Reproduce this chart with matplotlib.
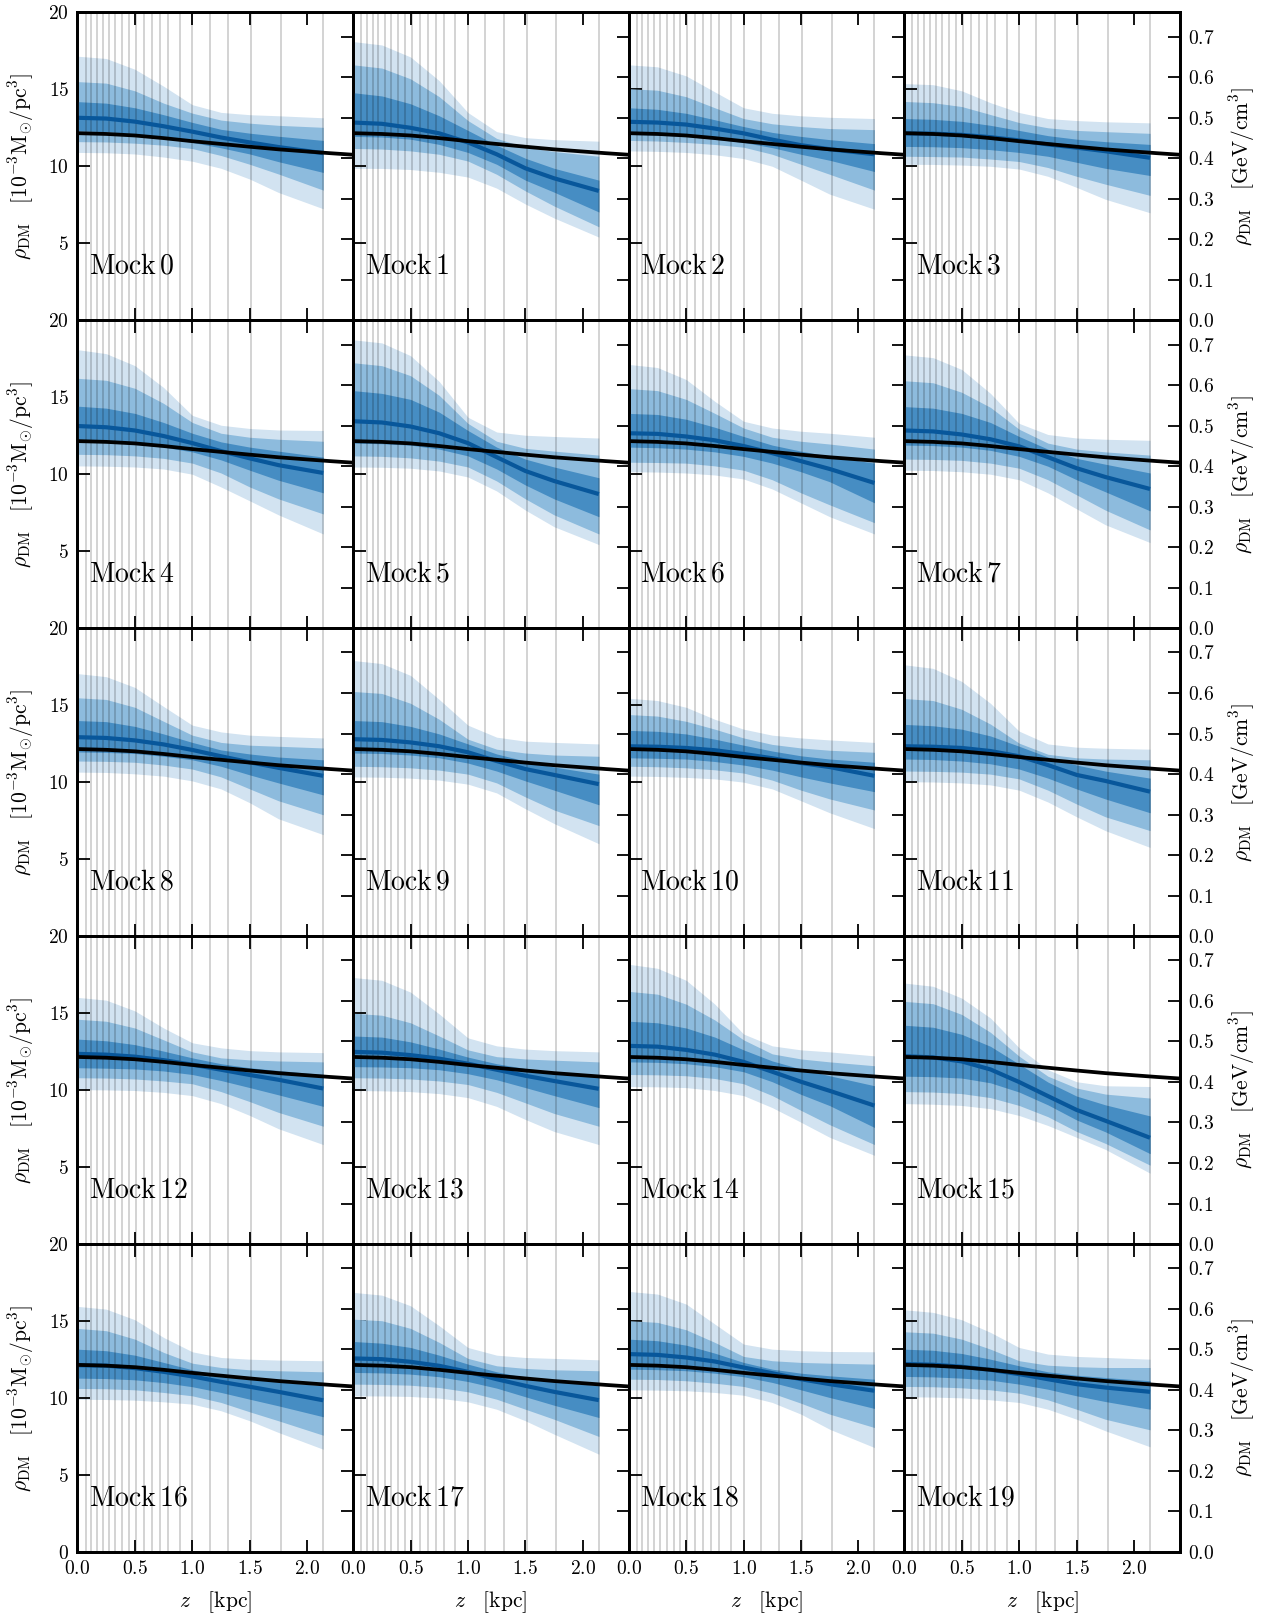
import numpy as np
import matplotlib
matplotlib.use("Agg")
import matplotlib.pyplot as plt
from matplotlib.ticker import FuncFormatter

# ---------------- data ----------------
z_grid = [0.0, 0.25, 0.5, 0.75, 1.0, 1.25, 1.5, 1.75, 2.14]
bin_edges = [0.07, 0.12, 0.17, 0.22, 0.275, 0.33, 0.39, 0.45, 0.51, 0.58,
             0.65, 0.72, 0.79, 0.89, 1.0, 1.15, 1.31, 1.51, 1.77, 2.14]

z_true = [0.0, 0.25, 0.5, 0.75, 1.0, 1.25, 1.5, 1.75, 2.0, 2.2, 2.4]
rho_true = [12.15, 12.1, 12.0, 11.83, 11.63, 11.45, 11.27, 11.1, 10.96, 10.85, 10.75]

mock_names = [f"Mock {i}" for i in range(20)]

outer_hi = [
    [17.15, 17.0, 16.3, 15.2, 14.0, 13.5, 13.35, 13.28, 13.15],
    [18.1, 17.88, 17.1, 15.56, 13.49, 12.25, 11.86, 11.73, 11.63],
    [16.59, 16.46, 15.87, 14.83, 13.8, 13.44, 13.28, 13.18, 13.1],
    [15.37, 15.3, 14.9, 14.13, 13.49, 13.1, 12.97, 12.89, 12.82],
    [18.09, 17.83, 17.05, 15.63, 13.82, 13.18, 12.97, 12.87, 12.84],
    [18.73, 18.53, 17.7, 16.02, 13.7, 12.74, 12.53, 12.45, 12.35],
    [17.13, 16.93, 16.15, 14.73, 13.44, 13.0, 12.79, 12.66, 12.4],
    [17.75, 17.57, 16.8, 15.25, 13.3, 12.58, 12.35, 12.27, 12.2],
    [17.05, 16.85, 16.15, 14.91, 13.7, 13.26, 13.05, 12.97, 12.87],
    [17.9, 17.7, 16.93, 15.37, 13.7, 12.92, 12.66, 12.58, 12.48],
    [15.45, 15.3, 14.86, 14.08, 13.44, 13.05, 12.87, 12.74, 12.58],
    [17.62, 17.39, 16.54, 15.12, 13.31, 12.48, 12.27, 12.2, 12.14],
    [16.02, 15.84, 15.14, 14.03, 13.07, 12.74, 12.56, 12.48, 12.43],
    [17.31, 17.13, 16.36, 14.94, 13.39, 12.87, 12.66, 12.56, 12.48],
    [18.17, 17.91, 17.13, 15.58, 13.64, 12.87, 12.61, 12.48, 12.22],
    [16.95, 16.74, 15.97, 14.68, 12.74, 11.32, 10.54, 10.28, 10.23],
    [15.95, 15.77, 15.08, 13.93, 13.0, 12.63, 12.52, 12.46, 12.42],
    [16.86, 16.68, 15.99, 14.69, 13.28, 12.78, 12.63, 12.57, 12.48],
    [16.92, 16.75, 16.1, 14.8, 13.5, 13.17, 13.07, 13.02, 13.0],
    [15.73, 15.56, 15.08, 14.26, 13.28, 12.85, 12.7, 12.63, 12.52],
]
mid_hi = [
    [15.5, 15.4, 14.9, 14.1, 13.45, 13.0, 12.8, 12.66, 12.53],
    [16.59, 16.38, 15.68, 14.52, 12.97, 11.81, 11.24, 10.96, 10.65],
    [15.04, 14.94, 14.52, 13.8, 13.1, 12.76, 12.58, 12.45, 12.38],
    [14.21, 14.13, 13.88, 13.36, 12.84, 12.5, 12.33, 12.25, 12.14],
    [16.23, 16.1, 15.58, 14.6, 13.36, 12.66, 12.4, 12.27, 12.14],
    [17.24, 17.05, 16.4, 15.12, 13.3, 12.14, 11.68, 11.5, 11.24],
    [15.56, 15.43, 14.86, 13.95, 13.0, 12.4, 12.14, 11.96, 11.63],
    [16.07, 15.94, 15.32, 14.34, 12.92, 12.02, 11.63, 11.45, 11.24],
    [15.48, 15.37, 14.86, 13.95, 13.05, 12.58, 12.4, 12.33, 12.22],
    [15.89, 15.76, 15.12, 14.08, 12.79, 12.14, 11.89, 11.76, 11.68],
    [14.39, 14.29, 13.95, 13.44, 12.87, 12.45, 12.22, 12.07, 11.94],
    [15.43, 15.3, 14.73, 13.77, 12.53, 11.81, 11.58, 11.5, 11.45],
    [14.6, 14.47, 14.03, 13.26, 12.48, 12.09, 11.96, 11.89, 11.83],
    [14.99, 14.86, 14.37, 13.51, 12.61, 12.17, 12.02, 11.94, 11.83],
    [16.41, 16.23, 15.58, 14.55, 13.26, 12.35, 12.02, 11.83, 11.58],
    [15.76, 15.61, 14.91, 13.75, 12.2, 10.9, 10.13, 9.74, 9.48],
    [14.52, 14.37, 13.82, 12.96, 12.26, 11.98, 11.83, 11.77, 11.7],
    [15.12, 15.02, 14.52, 13.61, 12.57, 12.09, 11.92, 11.83, 11.77],
    [15.02, 14.91, 14.43, 13.61, 12.7, 12.42, 12.31, 12.26, 12.2],
    [14.3, 14.21, 13.82, 13.17, 12.42, 12.13, 12.03, 11.98, 11.98],
]
inner_hi = [
    [14.2, 14.1, 13.8, 13.35, 12.85, 12.4, 12.15, 11.95, 11.68],
    [14.78, 14.57, 14.06, 13.28, 12.33, 11.37, 10.52, 9.87, 9.1],
    [13.8, 13.7, 13.44, 13.02, 12.58, 12.2, 11.94, 11.73, 11.47],
    [13.1, 13.05, 12.92, 12.66, 12.33, 11.99, 11.76, 11.6, 11.42],
    [14.42, 14.29, 13.95, 13.36, 12.66, 12.1, 11.76, 11.5, 11.11],
    [15.43, 15.25, 14.86, 14.03, 12.84, 11.76, 10.98, 10.47, 9.77],
    [13.95, 13.88, 13.57, 13.05, 12.45, 11.89, 11.5, 11.16, 10.72],
    [14.39, 14.29, 13.95, 13.36, 12.45, 11.63, 11.03, 10.65, 10.08],
    [14.0, 13.93, 13.62, 13.13, 12.58, 12.09, 11.83, 11.63, 11.45],
    [14.0, 13.93, 13.62, 13.13, 12.48, 11.83, 11.37, 10.98, 10.52],
    [13.36, 13.3, 13.13, 12.79, 12.4, 12.02, 11.71, 11.5, 11.29],
    [13.75, 13.66, 13.44, 13.0, 12.33, 11.63, 11.11, 10.72, 10.26],
    [13.31, 13.2, 12.95, 12.53, 12.09, 11.71, 11.45, 11.27, 11.01],
    [13.51, 13.44, 13.13, 12.66, 12.14, 11.71, 11.4, 11.19, 10.93],
    [14.47, 14.37, 14.03, 13.44, 12.61, 11.89, 11.37, 10.93, 10.28],
    [14.21, 14.08, 13.62, 12.84, 11.68, 10.52, 9.61, 9.04, 8.32],
    [13.17, 13.07, 12.78, 12.31, 11.83, 11.48, 11.22, 11.05, 10.79],
    [13.67, 13.56, 13.28, 12.78, 12.2, 11.7, 11.33, 11.12, 10.79],
    [13.82, 13.72, 13.43, 12.91, 12.31, 11.87, 11.61, 11.44, 11.22],
    [13.17, 13.1, 12.89, 12.52, 12.09, 11.7, 11.48, 11.33, 11.12],
]
median = [
    [13.15, 13.1, 12.9, 12.6, 12.25, 11.87, 11.55, 11.25, 10.85],
    [12.84, 12.76, 12.5, 12.14, 11.55, 10.78, 9.87, 9.22, 8.4],
    [12.89, 12.84, 12.71, 12.45, 12.14, 11.73, 11.37, 11.11, 10.78],
    [12.14, 12.12, 12.04, 11.89, 11.68, 11.42, 11.21, 10.98, 10.55],
    [13.13, 13.05, 12.84, 12.48, 12.02, 11.5, 11.03, 10.59, 10.08],
    [13.44, 13.36, 13.1, 12.66, 12.02, 11.11, 10.21, 9.56, 8.71],
    [12.66, 12.62, 12.45, 12.2, 11.83, 11.37, 10.85, 10.34, 9.43],
    [12.84, 12.78, 12.58, 12.27, 11.81, 11.11, 10.39, 9.82, 9.04],
    [12.92, 12.87, 12.71, 12.45, 12.09, 11.68, 11.29, 10.93, 10.41],
    [12.79, 12.74, 12.58, 12.33, 11.94, 11.37, 10.85, 10.47, 9.87],
    [12.33, 12.3, 12.22, 12.07, 11.83, 11.55, 11.24, 10.98, 10.41],
    [12.33, 12.3, 12.22, 12.02, 11.68, 11.11, 10.47, 10.08, 9.38],
    [12.35, 12.3, 12.17, 11.94, 11.65, 11.32, 10.98, 10.67, 10.1],
    [12.48, 12.43, 12.27, 12.04, 11.71, 11.32, 10.93, 10.59, 10.08],
    [12.87, 12.82, 12.61, 12.3, 11.83, 11.19, 10.54, 9.95, 8.99],
    [12.2, 12.12, 11.86, 11.34, 10.52, 9.61, 8.71, 8.01, 6.9],
    [12.13, 12.1, 11.94, 11.7, 11.4, 11.05, 10.73, 10.4, 9.85],
    [12.57, 12.52, 12.35, 12.09, 11.7, 11.22, 10.79, 10.4, 9.86],
    [12.85, 12.8, 12.63, 12.37, 11.98, 11.61, 11.22, 10.9, 10.47],
    [12.2, 12.16, 12.03, 11.83, 11.55, 11.22, 10.9, 10.68, 10.4],
]
inner_lo = [
    [12.3, 12.25, 12.1, 11.85, 11.55, 11.2, 10.8, 10.3, 9.6],
    [11.94, 11.9, 11.76, 11.42, 10.9, 10.13, 9.1, 8.32, 7.03],
    [12.07, 12.03, 11.94, 11.76, 11.55, 11.21, 10.78, 10.39, 9.66],
    [11.29, 11.27, 11.21, 11.08, 10.9, 10.65, 10.26, 9.87, 9.4],
    [12.07, 12.05, 11.96, 11.76, 11.45, 10.93, 10.26, 9.61, 8.79],
    [12.02, 11.98, 11.89, 11.63, 11.19, 10.34, 9.3, 8.4, 7.24],
    [11.76, 11.72, 11.63, 11.45, 11.16, 10.72, 10.16, 9.51, 8.14],
    [11.89, 11.86, 11.76, 11.55, 11.16, 10.52, 9.64, 8.86, 7.62],
    [11.96, 11.93, 11.86, 11.68, 11.45, 11.03, 10.47, 9.95, 9.17],
    [11.89, 11.86, 11.76, 11.58, 11.24, 10.72, 10.08, 9.48, 8.53],
    [11.58, 11.55, 11.5, 11.34, 11.11, 10.78, 10.34, 9.95, 9.38],
    [11.5, 11.47, 11.37, 11.19, 10.85, 10.26, 9.56, 8.91, 8.01],
    [11.45, 11.42, 11.37, 11.24, 11.01, 10.62, 10.16, 9.69, 8.94],
    [11.52, 11.5, 11.45, 11.32, 11.06, 10.67, 10.16, 9.64, 8.86],
    [11.83, 11.8, 11.71, 11.52, 11.19, 10.54, 9.72, 8.99, 7.57],
    [10.9, 10.87, 10.78, 10.47, 9.87, 9.04, 8.06, 7.29, 5.87],
    [11.29, 11.26, 11.18, 11.0, 10.73, 10.36, 9.92, 9.49, 8.78],
    [11.66, 11.63, 11.55, 11.38, 11.07, 10.64, 10.08, 9.53, 8.73],
    [11.87, 11.84, 11.77, 11.61, 11.38, 11.01, 10.53, 10.03, 9.32],
    [11.4, 11.37, 11.29, 11.16, 10.9, 10.57, 10.14, 9.77, 9.27],
]
mid_lo = [
    [11.6, 11.58, 11.5, 11.37, 11.15, 10.7, 10.13, 9.5, 8.45],
    [11.16, 11.12, 11.0, 10.78, 10.34, 9.48, 8.4, 7.42, 6.07],
    [11.68, 11.64, 11.55, 11.42, 11.24, 10.78, 10.13, 9.48, 8.45],
    [10.65, 10.63, 10.6, 10.47, 10.31, 9.92, 9.35, 8.84, 8.11],
    [11.29, 11.27, 11.19, 11.03, 10.72, 10.08, 9.17, 8.4, 7.42],
    [11.19, 11.16, 11.06, 10.85, 10.47, 9.56, 8.4, 7.36, 6.12],
    [10.78, 10.76, 10.72, 10.54, 10.26, 9.64, 8.79, 8.01, 6.85],
    [10.98, 10.96, 10.9, 10.72, 10.39, 9.64, 8.66, 7.67, 6.38],
    [11.37, 11.35, 11.29, 11.11, 10.85, 10.34, 9.56, 8.79, 7.88],
    [11.03, 11.0, 10.93, 10.78, 10.52, 9.95, 9.04, 8.19, 7.18],
    [11.03, 11.0, 10.93, 10.8, 10.59, 10.13, 9.48, 8.91, 8.19],
    [10.72, 10.7, 10.65, 10.52, 10.21, 9.48, 8.58, 7.75, 6.85],
    [10.8, 10.78, 10.72, 10.59, 10.41, 9.9, 9.25, 8.55, 7.65],
    [10.8, 10.78, 10.72, 10.59, 10.36, 9.85, 9.17, 8.48, 7.65],
    [11.01, 10.99, 10.93, 10.75, 10.41, 9.64, 8.68, 7.75, 6.46],
    [9.9, 9.87, 9.77, 9.51, 9.0, 8.27, 7.31, 6.54, 5.12],
    [10.62, 10.6, 10.53, 10.36, 10.14, 9.71, 9.1, 8.52, 7.58],
    [10.9, 10.88, 10.83, 10.68, 10.4, 9.92, 9.27, 8.62, 7.5],
    [11.22, 11.2, 11.12, 10.96, 10.75, 10.31, 9.66, 8.95, 8.08],
    [10.75, 10.73, 10.66, 10.53, 10.31, 9.88, 9.27, 8.62, 7.93],
]
outer_lo = [
    [10.9, 10.88, 10.8, 10.6, 10.33, 9.87, 9.17, 8.3, 7.24],
    [9.87, 9.86, 9.79, 9.61, 9.3, 8.58, 7.55, 6.64, 5.4],
    [11.0, 10.97, 10.9, 10.75, 10.5, 10.0, 9.1, 8.19, 7.21],
    [10.13, 10.12, 10.08, 10.0, 9.82, 9.35, 8.63, 7.86, 6.98],
    [10.54, 10.52, 10.47, 10.34, 10.0, 9.17, 8.27, 7.36, 6.12],
    [10.47, 10.45, 10.39, 10.21, 9.82, 8.91, 7.67, 6.59, 5.43],
    [10.16, 10.14, 10.08, 9.95, 9.69, 9.04, 8.14, 7.24, 6.12],
    [10.26, 10.24, 10.16, 10.0, 9.64, 8.79, 7.75, 6.72, 5.56],
    [10.65, 10.63, 10.54, 10.39, 10.08, 9.56, 8.66, 7.62, 6.59],
    [10.34, 10.32, 10.26, 10.13, 9.87, 9.3, 8.27, 7.31, 6.0],
    [10.39, 10.37, 10.31, 10.21, 10.0, 9.56, 8.79, 8.01, 6.98],
    [10.03, 10.01, 9.95, 9.82, 9.48, 8.71, 7.75, 6.85, 5.76],
    [10.03, 10.01, 9.97, 9.85, 9.64, 9.12, 8.35, 7.49, 6.46],
    [9.97, 9.95, 9.9, 9.77, 9.51, 8.94, 8.09, 7.31, 6.46],
    [10.23, 10.21, 10.16, 9.97, 9.64, 8.86, 7.91, 6.93, 5.76],
    [9.12, 9.08, 9.0, 8.79, 8.35, 7.7, 6.93, 6.15, 4.6],
    [9.92, 9.9, 9.86, 9.75, 9.6, 9.17, 8.52, 7.76, 6.67],
    [10.14, 10.13, 10.1, 9.99, 9.75, 9.27, 8.52, 7.65, 6.35],
    [10.53, 10.51, 10.47, 10.36, 10.18, 9.71, 8.95, 7.97, 6.78],
    [10.08, 10.06, 10.01, 9.88, 9.71, 9.27, 8.62, 7.87, 6.83],
]

# unit conversion: 1e-3 Msun/pc^3 -> GeV/cm^3
GEV_PER_UNIT = 0.038

# ---------------- style ----------------
plt.rcParams['mathtext.fontset'] = 'cm'
plt.rcParams['font.family'] = ['DejaVu Serif']
plt.rcParams['axes.linewidth'] = 2.0

c_outer = '#d2e3f1'
c_mid = '#8dbbdd'
c_inner = '#468dc3'
c_med = '#08579b'

NR, NC = 5, 4
fig = plt.figure(figsize=(12.64, 16.21), dpi=100)
gs = fig.add_gridspec(NR, NC, left=0.0613, right=0.9335, top=0.9924, bottom=0.0426,
                      wspace=0, hspace=0)

tick_fs = 14
label_fs = 15.5
mock_fs = 20

for i in range(20):
    r, c = divmod(i, NC)
    ax = fig.add_subplot(gs[r, c])
    z = np.array(z_grid)
    ax.fill_between(z, outer_lo[i], outer_hi[i], color=c_outer, lw=0, zorder=1)
    ax.fill_between(z, mid_lo[i], mid_hi[i], color=c_mid, lw=0, zorder=2)
    ax.fill_between(z, inner_lo[i], inner_hi[i], color=c_inner, lw=0, zorder=3)
    for e in bin_edges:
        ax.axvline(e, color='k', alpha=0.22, lw=1.1, zorder=4)
    ax.plot(z, median[i], color=c_med, lw=3.0, zorder=5, solid_capstyle='butt')
    ax.plot(z_true, rho_true, color='k', lw=2.7, zorder=6)
    ax.set_xlim(0, 2.4)
    ax.set_ylim(0, 20)
    ax.set_xticks([0, 0.5, 1.0, 1.5, 2.0])
    ax.set_yticks([0, 5, 10, 15, 20])
    bottom_row = (r == NR - 1)
    ax.xaxis.set_major_formatter(FuncFormatter(lambda v, p: f'${v:.1f}$'))
    if bottom_row:
        ax.yaxis.set_major_formatter(FuncFormatter(lambda v, p: f'${v:g}$'))
    else:
        ax.yaxis.set_major_formatter(FuncFormatter(lambda v, p: '' if v == 0 else f'${v:g}$'))
    ax.tick_params(axis='both', which='major', direction='in', length=9, width=1.3,
                   labelsize=tick_fs, top=True, bottom=True, left=True, right=False,
                   labelleft=(c == 0), labelbottom=bottom_row, pad=6)
    ax.text(0.1, 3.5, r'$\mathrm{Mock\,%d}$' % i, fontsize=mock_fs, va='center', ha='left',
            zorder=7)
    if c == 0:
        ax.set_ylabel(r'$\rho_{\rm DM}\quad[10^{-3}{\rm M}_{\odot}/{\rm pc}^3]$',
                      fontsize=label_fs, labelpad=9)
    if bottom_row:
        ax.set_xlabel(r'$z\quad[{\rm kpc}]$', fontsize=label_fs, labelpad=8)

    ax2 = ax.twinx()
    ax2.set_ylim(0, 20 * GEV_PER_UNIT)
    ax2.set_yticks([0.0, 0.1, 0.2, 0.3, 0.4, 0.5, 0.6, 0.7])
    ax2.yaxis.set_major_formatter(FuncFormatter(lambda v, p: f'${v:.1f}$'))
    ax2.tick_params(axis='y', direction='in', length=9, width=1.3, labelsize=tick_fs,
                    labelright=(c == NC - 1), pad=6)
    for sp in ax2.spines.values():
        sp.set_linewidth(2.0)
    if c == NC - 1:
        ax2.set_ylabel(r'$\rho_{\rm DM}\quad[{\rm GeV}/{\rm cm}^3]$', fontsize=label_fs,
                       rotation=90, labelpad=9)

fig.savefig('out.png', dpi=100)
